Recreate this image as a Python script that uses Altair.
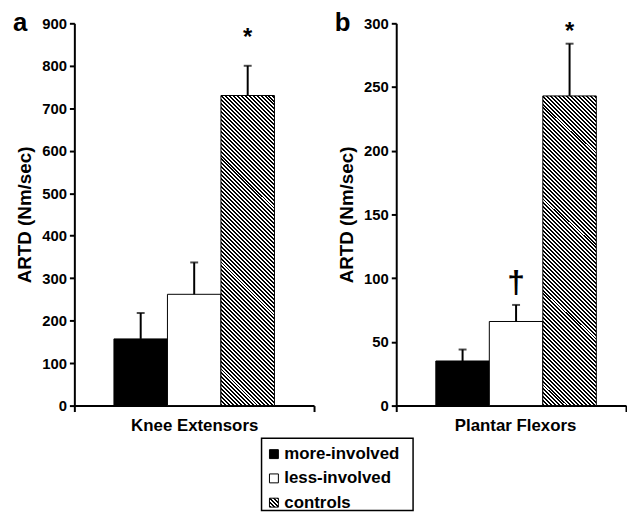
import altair as alt
import pandas as pd

groups = ["more-involved", "less-involved", "controls"]
knee_name = "Knee Extensors"
knee_means = [157, 262, 730]
knee_upper = [218, 337, 800]
knee_notes = ["", "", "*"]
knee_note_y = [0, 0, 865]
knee_ticks = [0, 100, 200, 300, 400, 500, 600, 700, 800, 900]

plantar_name = "Plantar Flexors"
plantar_means = [35, 66, 243]
plantar_upper = [44, 79, 284]
plantar_notes = ["", "†", "*"]
plantar_note_y = [0, 96, 293]
plantar_ticks = [0, 50, 100, 150, 200, 250, 300]

FONT = "Liberation Sans"


def hatch(w, h, s=1.15, period=4.0, dark=0.5):
    n = s * (w * w + h * h) / (period * h)
    step = 1.0 / n
    stops = []
    i = 0
    while i * step < 1:
        a = i * step
        b = min((i + dark) * step, 1)
        c = min((i + 1) * step, 1)
        stops += [
            {"offset": a, "color": "black"},
            {"offset": b, "color": "black"},
            {"offset": b, "color": "white"},
            {"offset": c, "color": "white"},
        ]
        i += 1
    return {"gradient": "linear", "x1": 0, "y1": 1, "x2": s * w / h, "y2": 1 - s, "stops": stops}


BAR_HATCH = hatch(54, 313)
SQ_HATCH = hatch(9, 9, s=1.0)


def fill_for(h):
    return (
        alt.when(alt.datum.group == "more-involved").then(alt.value("black"))
        .when(alt.datum.group == "controls").then(alt.value(h))
        .otherwise(alt.value("white"))
    )


def panel(name, means, upper, notes, note_y, ymax, ticks, letter, width, pad_outer, align, label_offset):
    df = pd.DataFrame({
        "muscle": [name] * 3,
        "group": groups,
        "mean": means,
        "upper": upper,
        "note": notes,
        "note_y": note_y,
    })
    x = alt.X(
        "muscle:N", title=None,
        scale=alt.Scale(paddingInner=0, paddingOuter=0),
        axis=alt.Axis(labelAngle=0, tickBand="extent", ticks=True, tickSize=6, tickWidth=2,
                      tickColor="black", domainColor="black", domainWidth=2,
                      labelFont=FONT, labelFontSize=17, labelFontWeight="bold", labelColor="black",
                      labelPadding=6, labelOffset=label_offset),
    )
    xo = alt.XOffset("group:N", sort=groups,
                     scale=alt.Scale(domain=groups, paddingInner=0, paddingOuter=pad_outer, align=align))
    y = alt.Y(
        "mean:Q", title="ARTD (Nm/sec)",
        scale=alt.Scale(domain=[0, ymax], nice=False, zero=True),
        axis=alt.Axis(values=ticks, grid=False, tickSize=5, tickWidth=2, tickColor="black",
                      domainColor="black", domainWidth=2, labelFont=FONT, labelFontSize=15,
                      labelFontWeight="bold", labelColor="black", labelPadding=3,
                      titleFont=FONT, titleFontSize=19, titleFontWeight="bold", titleColor="black",
                      titlePadding=7),
    )
    base = alt.Chart(df).encode(x=x, xOffset=xo)
    bars = base.mark_bar(stroke="black", strokeWidth=1).encode(y=y, fill=fill_for(BAR_HATCH))
    err = base.mark_rule(color="black", strokeWidth=2).encode(y="mean:Q", y2="upper:Q")
    cap = base.mark_tick(color="black", size=8, thickness=2).encode(y="upper:Q")
    note = base.transform_filter("datum.note != ''").mark_text(
        font=FONT, fontWeight="bold", color="black", baseline="middle"
    ).encode(
        y="note_y:Q", text="note:N",
        size=alt.when(alt.datum.note == "†").then(alt.value(32)).otherwise(alt.value(24)),
    )
    lab = alt.Chart(pd.DataFrame({"letter": [letter]})).mark_text(
        font=FONT, fontSize=26, fontWeight="bold", color="black", align="left", baseline="alphabetic"
    ).encode(x=alt.value(-62), y=alt.value(8), text="letter:N")
    return alt.layer(bars, err, cap, note, lab).properties(width=width, height=386)


pa = panel(knee_name, knee_means, knee_upper, knee_notes, knee_note_y, 900, knee_ticks, "a",
           242, 0.74, 0.5, 0)
pb = panel(plantar_name, plantar_means, plantar_upper, plantar_notes, plantar_note_y, 300, plantar_ticks, "b",
           232, 0.648, 0.58, 4)

leg_df = pd.DataFrame({"group": groups})
leg_y = alt.Y("group:N", sort=groups, axis=None,
              scale=alt.Scale(type="point", domain=groups, range=[16, 65], padding=0))
box = alt.Chart(pd.DataFrame({"k": [1]})).mark_rect(fill="white", stroke="black", strokeWidth=1.5).encode(
    x=alt.value(189), x2=alt.value(342), y=alt.value(0), y2=alt.value(73))
sq = alt.Chart(leg_df).mark_square(size=81, stroke="black", strokeWidth=1, opacity=1).encode(
    x=alt.value(201.5), y=leg_y, fill=fill_for(SQ_HATCH))
txt = alt.Chart(leg_df).mark_text(font=FONT, fontSize=17, fontWeight="bold", color="black",
                                  align="left", baseline="middle").encode(
    x=alt.value(212), y=leg_y, text="group:N")
legend = alt.layer(box, sq, txt).properties(width=360, height=73)

chart = alt.vconcat(
    alt.hconcat(pa, pb, spacing=20),
    legend,
    spacing=4,
).properties(
    padding={"left": 5, "top": 0, "right": 0, "bottom": 0}
).configure_view(stroke=None)

chart.save("out.html", embed_options={"renderer": "svg", "actions": False})
